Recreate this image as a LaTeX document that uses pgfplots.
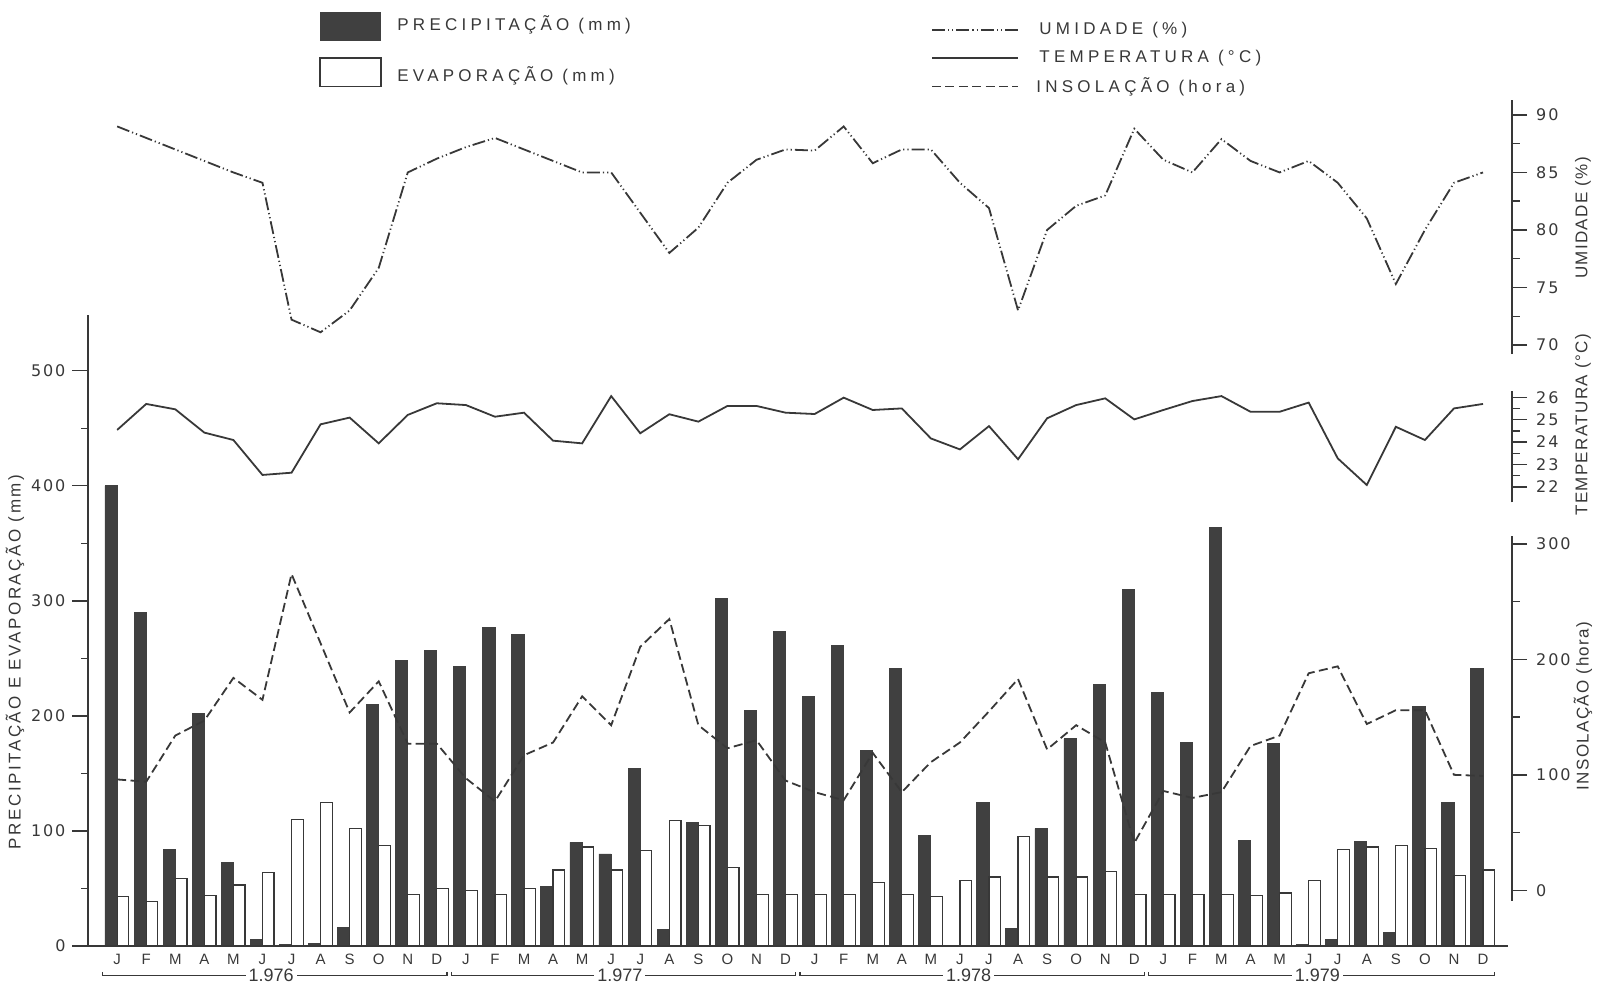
\documentclass[border=0pt]{standalone}
\usepackage{pgfplots}
\pgfplotsset{compat=1.18}
\usepackage{pgfplotstable}
\usepackage{fontspec}
\setmainfont{Liberation Sans}
\newfontfamily\legfont[LetterSpace=25]{Liberation Sans}
\newfontfamily\labfont[LetterSpace=15]{Liberation Sans}
\newfontfamily\rlabfont[LetterSpace=8]{Liberation Sans}
\newfontfamily\numfamily[LetterSpace=12]{DejaVu Sans}
\newcommand{\nf}{\numfamily\fontsize{8}{9}\selectfont}
\newcommand{\lf}{\legfont\fontsize{8.5}{10}\selectfont}
\newcommand{\af}{\labfont\fontsize{8.5}{10}\selectfont}
\newcommand{\rf}{\rlabfont\fontsize{8.5}{10}\selectfont}
\newcommand{\mf}{\fontsize{7.5}{8}\selectfont}
\newcommand{\yf}{\fontsize{9}{10}\selectfont}
\definecolor{ink}{gray}{0.22}
\definecolor{barc}{gray}{0.25}

\pgfplotstableread{
x P E U T I
0 400 43 89.0 24.54 96
1 290 39 88.0 25.70 94
2 84 59 87.0 25.46 134
3 202 44 86.0 24.42 147
4 73 53 85.0 24.09 184
5 6 64 84.1 22.53 165
6 1 110 72.2 22.63 274
7 2 125 71.1 24.79 214
8 16 102 73.0 25.09 154
9 210 87 76.7 23.94 181
10 248 45 85.0 25.21 127
11 257 50 86.2 25.73 127
12 243 48 87.2 25.65 97
13 277 45 88.0 25.13 77
14 271 50 87.0 25.31 117
15 52 66 86.0 24.06 128
16 90 86 85.0 23.94 168
17 80 66 85.0 26.05 143
18 154 83 81.5 24.39 211
19 14 109 78.0 25.24 235
20 107 105 80.2 24.91 143
21 302 68 84.1 25.61 123
22 205 45 86.1 25.61 130
23 273 45 87.0 25.31 95
24 217 45 86.9 25.25 85
25 261 45 89.0 25.98 78
26 170 55 85.8 25.43 119
27 241 45 87.0 25.50 85
28 96 43 87.0 24.16 111
29 0 57 84.1 23.67 128
30 125 60 81.9 24.71 155
31 15 95 73.0 23.23 183
32 102 60 80.0 25.06 122
33 180 60 82.1 25.65 143
34 227 65 83.0 25.95 128
35 310 45 88.8 25.01 41
36 220 45 86.1 25.43 86
37 177 45 85.0 25.83 80
38 364 45 87.9 26.05 85
39 92 44 86.0 25.35 125
40 176 46 85.0 25.35 134
41 1 57 86.0 25.76 188
42 6 84 84.1 23.27 194
43 91 86 81.0 22.08 144
44 12 87 75.3 24.68 156
45 208 85 80.0 24.09 156
46 125 61 84.1 25.50 100
47 241 66 85.0 25.70 99
}\data

\tikzset{
  umid/.style={ink, line width=0.9pt, dash pattern=on 6.5pt off 1.5pt on 0.6pt off 1.5pt on 0.6pt off 1.5pt},
  temp/.style={ink, line width=0.9pt},
  insol/.style={ink, line width=0.9pt, dash pattern=on 4.5pt off 2.2pt},
}
\pgfplotsset{
  frame/.style={at={(44.05pt,22pt)}, anchor=south west, scale only axis,
    width=712pt, height=423pt, xmin=-1, xmax=48, clip=false,
    tick align=outside, tick style={ink, line width=0.7pt},
    major tick length=7.5pt, minor tick length=3.7pt},
  rightax/.style={frame, axis x line=none, axis y line*=right,
    axis line style={draw=none},
    yticklabel style={font=\nf, text=ink, anchor=west, xshift=1pt}},
}

\begin{document}
\begin{tikzpicture}
\path[use as bounding box] (0,0) rectangle (798.5pt,495pt);

% ---------- bars: precipitation and evaporation ----------
\begin{axis}[frame, ymin=0, ymax=735.3,
  axis lines*=left, axis line style={draw=none},
  xtick={0,...,47},
  xticklabels={J,F,M,A,M,J,J,A,S,O,N,D,J,F,M,A,M,J,J,A,S,O,N,D,J,F,M,A,M,J,J,A,S,O,N,D,J,F,M,A,M,J,J,A,S,O,N,D},
  xtick style={draw=none},
  xticklabel style={font=\mf, text=ink, yshift=7.2pt},
  ytick={0,100,200,300,400,500}, yticklabels={0,100,200,300,400,500},
  minor ytick={50,150,250,350,450},
  major tick length=7.8pt, minor tick length=3.3pt,
  yticklabel style={font=\nf, text=ink}]
\addplot[ybar, bar width=0.42, bar shift=-0.21, fill=barc, draw=barc] table[x=x, y=P] {\data};
\addplot[ybar, bar width=0.40, bar shift=0.20, fill=white, draw=ink, line width=0.6pt] table[x=x, y=E] {\data};
\draw[ink, line width=0.8pt] (axis cs:-1,548) -- (axis cs:-1,0) -- (axis cs:47.85,0);
% year brackets
\draw[ink, line width=0.6pt] (axis cs:-0.5,-22.5) -- (axis cs:-0.5,-25.8) -- (axis cs:11.35,-25.8) -- (axis cs:11.35,-22.5);
\draw[ink, line width=0.6pt] (axis cs:11.5,-22.5) -- (axis cs:11.5,-25.8) -- (axis cs:23.35,-25.8) -- (axis cs:23.35,-22.5);
\draw[ink, line width=0.6pt] (axis cs:23.5,-22.5) -- (axis cs:23.5,-25.8) -- (axis cs:35.35,-25.8) -- (axis cs:35.35,-22.5);
\draw[ink, line width=0.6pt] (axis cs:35.5,-22.5) -- (axis cs:35.5,-25.8) -- (axis cs:47.4,-25.8) -- (axis cs:47.4,-22.5);
\node[fill=white, inner sep=1.5pt, font=\yf, text=ink] at (axis cs:5.3,-25.8) {1.976};
\node[fill=white, inner sep=1.5pt, font=\yf, text=ink] at (axis cs:17.3,-25.8) {1.977};
\node[fill=white, inner sep=1.5pt, font=\yf, text=ink] at (axis cs:29.3,-25.8) {1.978};
\node[fill=white, inner sep=1.5pt, font=\yf, text=ink] at (axis cs:41.3,-25.8) {1.979};
\end{axis}

% ---------- humidity ----------
\begin{axis}[rightax, ymin=17.74, ymax=91.30,
  ytick={70,75,80,85,90}, yticklabels={70,75,80,85,90},
  minor ytick={72.5,77.5,82.5,87.5}]
\addplot[umid] table[x=x, y=U] {\data};
\draw[ink, line width=0.8pt] (axis cs:48,69.2) -- (axis cs:48,91.3);
\end{axis}

% ---------- temperature ----------
\begin{axis}[rightax, ymin=1.5, ymax=39.27,
  ytick={22,23,24,25,26}, yticklabels={22,23,24,25,26},
  minor ytick={22.5,23.5,24.5,25.5}]
\addplot[temp] table[x=x, y=T] {\data};
\draw[ink, line width=0.8pt] (axis cs:48,21.3) -- (axis cs:48,26.3);
\end{axis}

% ---------- sunshine ----------
\begin{axis}[rightax, ymin=-48.34, ymax=684.8,
  ytick={0,100,200,300}, yticklabels={0,100,200,300},
  minor ytick={50,150,250}]
\addplot[insol] table[x=x, y=I] {\data};
\draw[ink, line width=0.8pt] (axis cs:48,-9) -- (axis cs:48,307);
\end{axis}

% ---------- axis titles ----------
\node[rotate=90, font=\af, text=ink] at (7.5pt,164pt) {PRECIPITAÇÃO E EVAPORAÇÃO (mm)};
\node[rotate=90, font=\rf, text=ink] at (791.5pt,386pt) {UMIDADE (\%)};
\node[rotate=90, font=\rf, text=ink] at (791.5pt,282.5pt) {TEMPERATURA (°C)};
\node[rotate=90, font=\rf, text=ink] at (791.5pt,142pt) {INSOLAÇÃO (hora)};

% ---------- legend ----------
\fill[barc] (160pt,474.6pt) rectangle (190.5pt,488.9pt);
\draw[ink, line width=0.6pt] (160pt,451.7pt) rectangle (190.5pt,466pt);
\node[anchor=west, font=\lf, text=ink, inner sep=0pt] at (198.5pt,482.8pt) {PRECIPITAÇÃO (mm)};
\node[anchor=west, font=\lf, text=ink, inner sep=0pt] at (198.5pt,457.3pt) {EVAPORAÇÃO (mm)};
\draw[umid] (466pt,480pt) -- (509pt,480pt);
\draw[temp] (466pt,466pt) -- (509pt,466pt);
\draw[insol] (466pt,451.7pt) -- (509pt,451.7pt);
\node[anchor=west, font=\lf, text=ink, inner sep=0pt] at (519.5pt,480pt) {UMIDADE (\%)};
\node[anchor=west, font=\lf, text=ink, inner sep=0pt] at (519.5pt,466pt) {TEMPERATURA (°C)};
\node[anchor=west, font=\lf, text=ink, inner sep=0pt] at (518pt,451.7pt) {INSOLAÇÃO (hora)};
\end{tikzpicture}
\end{document}
